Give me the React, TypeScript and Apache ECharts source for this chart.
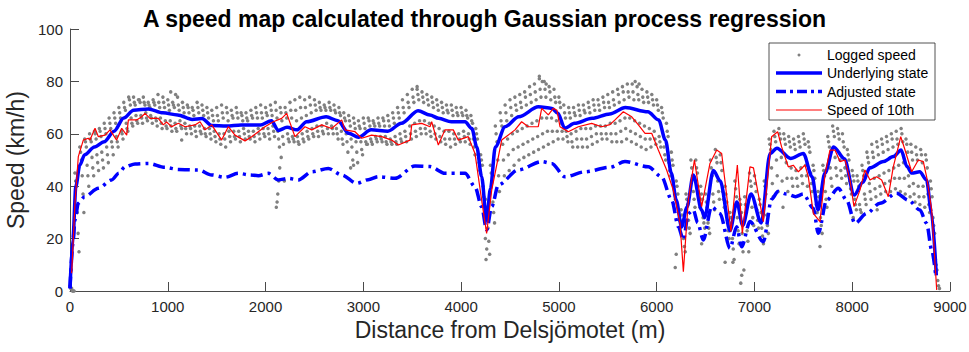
import React, { useEffect, useRef } from "react";
import * as echarts from "echarts";

const FONT = "'Liberation Sans', Arial, Helvetica, sans-serif";

// Underlying state (km/h) at distance (m)
const stateDist = [0, 30, 60, 100, 150, 250, 350, 450, 550, 650, 800, 950, 1100, 1250, 1350, 1450, 1600, 1750, 1950, 2060, 2130, 2220, 2320, 2420, 2620, 2740, 2850, 2950, 3080, 3250, 3390, 3560, 3680, 3770, 3900, 4040, 4110, 4160, 4210, 4260, 4300, 4350, 4450, 4590, 4790, 4930, 4990, 5060, 5160, 5340, 5520, 5680, 5910, 6020, 6090, 6150, 6200, 6255, 6310, 6375, 6460, 6490, 6580, 6650, 6750, 6820, 6880, 6965, 7070, 7160, 7230, 7370, 7500, 7590, 7650, 7720, 7810, 7920, 8020, 8110, 8180, 8320, 8420, 8500, 8560, 8610, 8690, 8760, 8810, 8860];
const stateSpeed = [1, 20, 40, 48, 52, 55, 57, 61, 66, 69, 69.5, 68, 67.2, 65.5, 65.8, 63.2, 63, 63.4, 63.4, 65, 61.3, 62.5, 61.5, 64.6, 66.5, 65, 60.2, 58.7, 61.5, 61, 64, 68.8, 67.2, 65.9, 64.6, 64.6, 62, 55, 43.6, 27, 39, 55, 62.7, 66.5, 70.3, 69.7, 67.8, 62.1, 64, 65.9, 67.6, 70, 68.4, 65.3, 57.6, 45, 34.7, 24.5, 32, 44.3, 30.9, 28, 46, 42, 23, 34, 25, 37, 26, 52.5, 54.5, 50.6, 52.5, 43.6, 31, 44.9, 55, 50.5, 36.6, 41.5, 47, 49.4, 51.3, 53.8, 47.5, 45, 45.5, 42.4, 30, 6];

// Adjusted state
const adjDist = [0, 30, 50, 85, 150, 290, 426, 500, 563, 665, 801, 971, 1108, 1312, 1449, 1585, 1721, 1841, 1926, 2028, 2130, 2233, 2335, 2472, 2642, 2779, 2932, 3050, 3153, 3324, 3528, 3682, 3835, 4040, 4142, 4210, 4261, 4313, 4381, 4585, 4824, 4926, 5062, 5267, 5522, 5676, 5914, 6050, 6154, 6222, 6273, 6324, 6375, 6420, 6477, 6562, 6647, 6750, 6818, 6869, 6954, 7091, 7176, 7240, 7330, 7420, 7500, 7602, 7653, 7739, 7858, 7943, 8028, 8147, 8284, 8454, 8573, 8693, 8761, 8813, 8857];
const adjSpeed = [1, 18, 27, 33.5, 36, 39.2, 42.4, 45, 47.4, 48.5, 48.7, 47.2, 46.4, 46.2, 44.3, 43.4, 44.9, 44.3, 44, 44.9, 42.4, 43, 42.4, 45.5, 46.8, 44.3, 41.1, 42.5, 43.6, 43, 47.7, 47.5, 44.9, 44.9, 39.8, 32.2, 23.3, 32.2, 40.5, 46.2, 49.4, 48.7, 43.6, 45.5, 47.2, 49.4, 47.4, 43.6, 34.7, 24.5, 19.5, 29.6, 30.9, 26, 19.5, 32.2, 29.6, 16.3, 24.5, 16.9, 26.5, 18.8, 35, 38, 37, 36, 37, 31.6, 22, 34.7, 39.2, 34.7, 25.8, 29.6, 33.5, 37.3, 34.7, 30.9, 25.8, 15.6, 5];

// Speed of 10th
const tenthDist = [17, 51, 85, 136, 187, 204, 256, 290, 358, 409, 477, 529, 580, 597, 682, 733, 767, 818, 903, 954, 988, 1040, 1108, 1176, 1278, 1330, 1381, 1449, 1551, 1619, 1687, 1790, 1858, 1926, 1994, 2079, 2165, 2216, 2301, 2403, 2472, 2574, 2676, 2779, 2812, 2915, 2983, 3085, 3188, 3290, 3358, 3477, 3495, 3597, 3682, 3699, 3767, 3835, 3920, 3971, 4073, 4142, 4210, 4261, 4313, 4415, 4551, 4619, 4687, 4789, 4824, 4892, 4943, 4980, 5011, 5096, 5198, 5335, 5438, 5522, 5574, 5659, 5745, 5813, 5881, 5949, 6017, 6102, 6170, 6239, 6273, 6324, 6386, 6460, 6545, 6614, 6665, 6760, 6825, 6876, 6954, 6990, 7091, 7176, 7237, 7278, 7346, 7397, 7449, 7517, 7551, 7602, 7670, 7721, 7772, 7823, 7875, 7926, 7977, 8018, 8079, 8130, 8182, 8250, 8301, 8369, 8420, 8471, 8496, 8540, 8608, 8676, 8727, 8761, 8813, 8864];
const tenthSpeed = [6.8, 33.5, 51.3, 57.6, 58.3, 57.6, 62.1, 58.9, 59.5, 61.5, 57.6, 62.1, 59.5, 65.3, 65.3, 66.5, 67.8, 65.9, 65.9, 63.4, 64.5, 62.7, 64, 62.7, 63.4, 64.6, 61.5, 63.4, 57.6, 62.7, 59.5, 57.3, 58.9, 60.8, 62.7, 64.6, 65.9, 67.8, 58.9, 62.7, 61.5, 63.4, 62, 65.3, 61.5, 60.8, 58.3, 59.5, 58.9, 57.6, 55.7, 57.6, 63.4, 64, 62.7, 64.6, 55.7, 61.5, 61.5, 57.6, 58.9, 52.5, 34.7, 22, 38.5, 57.6, 61.5, 64.6, 62.7, 62.7, 69.7, 67.2, 69.7, 69, 62.7, 60.8, 62.7, 64, 62.7, 63.5, 65.3, 68.4, 66.5, 63.4, 60.2, 60.2, 53.8, 46.2, 38.5, 25.8, 7.4, 34.7, 50, 32.2, 48.7, 53.8, 52.5, 22.6, 48.1, 22, 47.4, 47, 26.5, 58.9, 60.8, 55, 47.4, 48, 45.5, 48.1, 43.6, 29.6, 26.5, 44.3, 53.8, 53.8, 49.4, 50, 42.4, 32.2, 38.5, 46.2, 42.4, 43.6, 42.4, 36, 47.4, 55, 58.9, 53.8, 45.5, 50, 49.4, 43.6, 30.9, 0.4];

// Logged speed: six traced trips, one value every 50 m (first at 0 m)
const logStep = 50;
const logTripA = [2, 45, 55, 58, 60, 61, 62, 64, 66, 68, 70, 72, 74, 74, 73, 74, 72, 73, 75, 74, 73, 72, 74, 72, 71, 70, 72, 71, 70, 69, 70, 71, 70, 69, 70, 68, 68, 69, 70, 71, 70, 71, 72, 70, 70, 72, 73, 74, 73, 74, 73, 72, 71, 72, 71, 70, 68, 67, 66, 65, 66, 66, 65, 66, 66, 67, 68, 70, 73, 75, 77, 77, 76, 75, 74, 73, 72, 71, 71, 70, 70, 69, 67, 62, 52, 35, 48, 63, 68, 71, 73, 74, 75, 76, 78, 79, 81, 80, 78, 77, 74, 71, 70, 70, 71, 71, 72, 73, 73, 74, 75, 76, 77, 78, 79, 79, 78, 77, 76, 75, 73, 70, 64, 53, 42, 31, 37, 50, 50, 40, 37, 50, 54, 52, 40, 30, 42, 35, 36, 45, 44, 35, 42, 58, 61, 62, 60, 59, 58, 59, 60, 57, 48, 38, 48, 59, 63, 62, 60, 54, 46, 44, 48, 53, 56, 57, 58, 59, 60, 61, 62, 58, 56, 55, 54, 52, 42, 12];
const logTripB = [1, 40, 50, 55, 57, 58, 59, 60, 62, 64, 66, 69, 71, 71, 72, 71, 70, 71, 70, 70, 69, 70, 69, 68, 68, 67, 68, 67, 66, 65, 65, 66, 65, 66, 66, 65, 65, 66, 66, 66, 67, 67, 66, 65, 66, 66, 65, 66, 67, 68, 69, 69, 69, 69, 68, 67, 65, 63, 62, 62, 62, 63, 63, 63, 63, 63, 64, 66, 68, 70, 72, 73, 72, 71, 70, 69, 68, 68, 67, 67, 67, 66, 64, 58, 48, 30, 42, 57, 63, 65, 67, 69, 70, 71, 72, 73, 74, 74, 73, 72, 70, 66, 66, 67, 67, 68, 68, 69, 69, 70, 70, 71, 72, 73, 74, 73, 73, 72, 72, 71, 69, 66, 59, 48, 37, 27, 33, 44, 45, 35, 32, 44, 49, 46, 34, 26, 36, 30, 30, 40, 38, 30, 37, 54, 57, 58, 56, 55, 54, 55, 56, 53, 43, 34, 44, 55, 59, 58, 55, 50, 42, 40, 44, 49, 51, 52, 53, 54, 55, 56, 57, 53, 50, 50, 49, 47, 36, 8];
const logTripC = [0, 30, 44, 48, 51, 52, 53, 55, 57, 59, 61, 64, 66, 67, 67, 68, 67, 66, 66, 65, 65, 64, 65, 64, 63, 63, 63, 62, 62, 61, 60, 60, 61, 61, 61, 62, 61, 61, 62, 62, 62, 63, 61, 59, 60, 59, 59, 60, 61, 62, 63, 63, 64, 63, 62, 61, 60, 58, 57, 57, 57, 58, 59, 59, 59, 58, 59, 60, 61, 63, 64, 65, 65, 64, 63, 62, 61, 61, 60, 60, 61, 60, 58, 52, 40, 24, 34, 50, 56, 58, 60, 61, 62, 63, 64, 65, 66, 66, 66, 65, 64, 61, 60, 61, 62, 62, 62, 63, 63, 63, 64, 64, 65, 66, 66, 65, 64, 63, 62, 61, 59, 55, 49, 40, 30, 20, 27, 38, 38, 28, 26, 37, 42, 38, 27, 20, 28, 22, 23, 32, 31, 24, 29, 47, 50, 51, 49, 47, 46, 47, 48, 45, 36, 28, 38, 47, 51, 50, 47, 42, 35, 33, 37, 41, 43, 44, 45, 46, 47, 48, 49, 44, 41, 40, 40, 37, 28, 4];
const logTripD = [0, 15, 30, 40, 44, 46, 47, 49, 52, 55, 58, 61, 63, 64, 64, 65, 64, 63, 62, 62, 61, 61, 62, 60, 60, 59, 60, 59, 58, 57, 56, 55, 57, 58, 57, 58, 58, 57, 58, 59, 58, 59, 55, 42, 57, 57, 56, 57, 58, 59, 59, 60, 60, 60, 58, 56, 53, 50, 49, 52, 56, 56, 57, 57, 56, 56, 56, 57, 57, 58, 59, 60, 60, 59, 58, 57, 56, 55, 56, 57, 57, 56, 52, 46, 32, 14, 26, 38, 44, 46, 48, 50, 51, 52, 53, 54, 55, 56, 57, 58, 58, 57, 55, 55, 55, 55, 56, 57, 58, 58, 57, 57, 57, 58, 57, 56, 55, 54, 55, 56, 55, 50, 44, 35, 24, 15, 22, 32, 32, 24, 22, 31, 35, 32, 20, 12, 18, 8, 15, 25, 24, 18, 22, 36, 38, 32, 38, 40, 40, 41, 40, 38, 30, 22, 32, 40, 44, 43, 41, 37, 31, 30, 33, 35, 36, 37, 38, 38, 39, 38, 37, 36, 34, 33, 32, 30, 22, 1];
const logTripE = [1, 42, 53, 57, 58, 60, 61, 62, 64, 66, 68, 70, 73, 72, 73, 72, 71, 72, 72, 72, 71, 71, 71, 70, 70, 69, 70, 69, 68, 67, 67, 68, 68, 67, 68, 67, 66, 67, 68, 68, 68, 69, 69, 68, 68, 69, 69, 70, 70, 71, 71, 70, 70, 70, 69, 68, 66, 65, 64, 63, 64, 65, 64, 64, 65, 65, 66, 68, 70, 72, 74, 75, 74, 73, 72, 71, 70, 69, 69, 68, 68, 67, 65, 60, 50, 32, 45, 60, 65, 68, 70, 71, 72, 74, 75, 76, 77, 77, 76, 74, 72, 68, 68, 68, 69, 69, 70, 71, 71, 72, 72, 73, 75, 76, 76, 76, 75, 74, 74, 73, 71, 68, 61, 50, 40, 29, 35, 47, 47, 37, 34, 47, 51, 49, 37, 28, 39, 33, 33, 42, 41, 33, 40, 56, 59, 60, 58, 57, 56, 57, 58, 55, 46, 36, 46, 57, 61, 60, 57, 52, 44, 42, 46, 51, 53, 55, 56, 57, 58, 58, 60, 56, 53, 52, 52, 50, 39, 10];
const logTripF = [0, 22, 37, 44, 47, 49, 50, 52, 55, 57, 60, 62, 64, 65, 66, 66, 66, 65, 64, 63, 63, 62, 63, 62, 62, 61, 61, 60, 60, 59, 58, 58, 59, 59, 59, 60, 59, 59, 60, 60, 60, 61, 58, 56, 58, 58, 57, 58, 59, 60, 61, 61, 62, 62, 60, 58, 57, 55, 53, 54, 56, 57, 58, 58, 57, 57, 57, 58, 59, 60, 61, 62, 62, 61, 60, 59, 58, 58, 58, 58, 59, 58, 55, 49, 36, 19, 30, 44, 50, 52, 54, 55, 56, 57, 58, 59, 60, 61, 61, 61, 61, 59, 57, 58, 58, 58, 59, 60, 60, 60, 60, 60, 61, 62, 61, 60, 59, 58, 58, 58, 57, 52, 46, 37, 27, 17, 24, 35, 35, 26, 24, 34, 38, 35, 23, 16, 23, 15, 19, 28, 27, 21, 25, 41, 44, 42, 43, 43, 43, 44, 44, 41, 33, 25, 35, 43, 47, 46, 44, 39, 33, 31, 35, 38, 39, 40, 41, 42, 43, 43, 43, 40, 37, 36, 36, 33, 25, 2];
const logTripOffsets = [0, 8, 17, 25, 33, 42];
// Scattered single logs away from the main cloud
const strayDist = [1030, 1080, 1142, 2110, 2118, 2125, 2135, 2145, 2160, 2870, 2900, 3550, 4248, 4255, 4262, 4800, 4830, 4870, 5780, 5820, 6190, 6200, 6460, 6700, 6780, 6860, 6870, 7670, 8010, 8255];
const straySpeed = [76, 75, 57.6, 32, 34, 37, 42, 47, 51, 47, 48, 78, 20, 12, 16, 82, 80, 79, 80, 79, 9, 14, 18, 11, 11, 3, 6, 17, 28, 31];

const xTicks = { min: 0, max: 9000, step: 1000 };
const yTicks = { min: 0, max: 100, step: 20 };

const legendLabels = ["Logged speed", "Underlying state", "Adjusted state", "Speed of 10th"];

export default function App() {
  const ref = useRef<HTMLDivElement>(null);
  useEffect(() => {
    document.body.style.margin = "0";
    if (!ref.current) return;
    const chart = echarts.init(ref.current, undefined, { renderer: "svg" });

    const logged: number[][] = [];
    [logTripA, logTripE, logTripB, logTripC, logTripF, logTripD].forEach((trip, t) => {
      trip.forEach((v, i) => logged.push([i * logStep + logTripOffsets[t], v]));
    });
    strayDist.forEach((d, i) => logged.push([d, straySpeed[i]]));

    const pair = (xs: number[], ys: number[]) => xs.map((x, i) => [x, ys[i]]);
    const axisColor = "#4a4a4a";
    const labelColor = "#262626";

    const lx = 769, ly = 43, lw = 166, lh = 77;
    const rows = [55, 73, 91.5, 110];

    chart.setOption({
      animation: false,
      backgroundColor: "#ffffff",
      title: {
        text: "A speed map calculated through Gaussian process regression",
        left: "center",
        top: 2,
        textStyle: { fontSize: 23, fontWeight: "bold", color: "#000", fontFamily: FONT },
      },
      grid: { left: 70, right: 19, top: 29, bottom: 61, containLabel: false, outerBoundsMode: "none" },
      xAxis: {
        type: "value",
        min: xTicks.min,
        max: xTicks.max,
        interval: xTicks.step,
        name: "Distance from Delsjömotet (m)",
        nameLocation: "middle",
        nameGap: 26,
        nameTextStyle: { fontSize: 23, color: labelColor, fontFamily: FONT },
        axisLine: { show: true, onZero: false, lineStyle: { color: axisColor, width: 1 } },
        axisTick: { show: true, inside: true, length: 9, lineStyle: { color: axisColor } },
        axisLabel: { fontSize: 15, color: labelColor, margin: 8, fontFamily: FONT, formatter: (v: number) => String(v) },
        splitLine: { show: false },
      },
      yAxis: {
        type: "value",
        min: yTicks.min,
        max: yTicks.max,
        interval: yTicks.step,
        name: "Speed (km/h)",
        nameLocation: "middle",
        nameGap: 33,
        nameRotate: 90,
        nameTextStyle: { fontSize: 23, color: labelColor, fontFamily: FONT },
        axisLine: { show: true, onZero: false, lineStyle: { color: axisColor, width: 1 } },
        axisTick: { show: true, inside: true, length: 9, lineStyle: { color: axisColor } },
        axisLabel: { fontSize: 15, color: labelColor, margin: 7, fontFamily: FONT, formatter: (v: number) => String(v) },
        splitLine: { show: false },
      },
      series: [
        {
          name: legendLabels[0],
          type: "scatter",
          data: logged,
          symbol: "circle",
          symbolSize: 3.5,
          itemStyle: { color: "#808080", opacity: 1 },
          silent: true,
        },
        {
          name: legendLabels[1],
          type: "line",
          data: pair(stateDist, stateSpeed),
          showSymbol: false,
          smooth: 0.3,
          smoothMonotone: "x",
          lineStyle: { color: "#0000ff", width: 3.5 },
        },
        {
          name: legendLabels[2],
          type: "line",
          data: pair(adjDist, adjSpeed),
          showSymbol: false,
          smooth: 0.3,
          smoothMonotone: "x",
          lineStyle: { color: "#0000ff", width: 3.5, type: [12, 5, 3, 5] },
        },
        {
          name: legendLabels[3],
          type: "line",
          data: pair(tenthDist, tenthSpeed),
          showSymbol: false,
          lineStyle: { color: "#ff0000", width: 1.2 },
        },
      ],
      graphic: [
        {
          type: "rect",
          shape: { x: lx, y: ly, width: lw, height: lh },
          style: { fill: "#ffffff", stroke: "#262626", lineWidth: 0.8 },
          z: 100,
        },
        { type: "circle", shape: { cx: 799, cy: rows[0], r: 1.5 }, style: { fill: "#808080" }, z: 101 },
        { type: "line", shape: { x1: 776, y1: rows[1], x2: 822, y2: rows[1] }, style: { stroke: "#0000ff", lineWidth: 3.5 }, z: 101 },
        { type: "line", shape: { x1: 776, y1: rows[2], x2: 822, y2: rows[2] }, style: { stroke: "#0000ff", lineWidth: 3.5, lineDash: [10, 4, 3, 4] }, z: 101 },
        { type: "line", shape: { x1: 776, y1: rows[3], x2: 822, y2: rows[3] }, style: { stroke: "#ff0000", lineWidth: 1.2 }, z: 101 },
        ...legendLabels.map((t, i) => ({
          type: "text",
          x: 827,
          y: rows[i],
          style: { text: t, fontSize: 14, fill: "#000", fontFamily: FONT, verticalAlign: "middle" },
          z: 101,
        })),
      ],
    });
    return () => chart.dispose();
  }, []);
  return <div ref={ref} style={{ width: 969, height: 352 }} />;
}
